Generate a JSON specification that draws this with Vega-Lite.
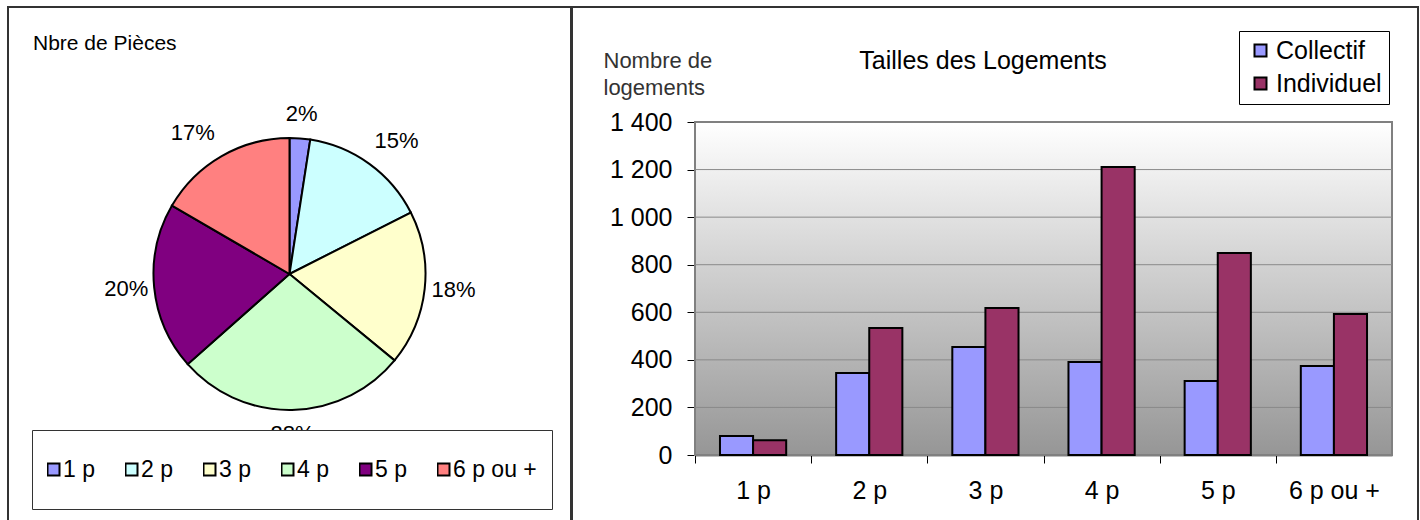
{
  "$schema": "https://vega.github.io/schema/vega-lite/v6.json",
  "padding": {"left": 7, "top": 6, "right": 0, "bottom": 0},
  "background": "#ffffff",
  "spacing": -2,
  "config": {
    "font": "Liberation Sans",
    "view": {"stroke": "#333333", "strokeWidth": 2}
  },
  "datasets": {
    "pieces": [
      {"ordre": 1, "pieces": "1 p", "total": 142, "pct": "2%"},
      {"ordre": 2, "pieces": "2 p", "total": 879, "pct": "15%"},
      {"ordre": 3, "pieces": "3 p", "total": 1072, "pct": "18%"},
      {"ordre": 4, "pieces": "4 p", "total": 1602, "pct": "28%"},
      {"ordre": 5, "pieces": "5 p", "total": 1160, "pct": "20%"},
      {"ordre": 6, "pieces": "6 p ou +", "total": 967, "pct": "17%"}
    ],
    "logements": [
      {"pieces": "1 p", "serie": "Collectif", "logements": 80},
      {"pieces": "1 p", "serie": "Individuel", "logements": 62},
      {"pieces": "2 p", "serie": "Collectif", "logements": 345},
      {"pieces": "2 p", "serie": "Individuel", "logements": 534},
      {"pieces": "3 p", "serie": "Collectif", "logements": 454},
      {"pieces": "3 p", "serie": "Individuel", "logements": 618},
      {"pieces": "4 p", "serie": "Collectif", "logements": 391},
      {"pieces": "4 p", "serie": "Individuel", "logements": 1211},
      {"pieces": "5 p", "serie": "Collectif", "logements": 311},
      {"pieces": "5 p", "serie": "Individuel", "logements": 849},
      {"pieces": "6 p ou +", "serie": "Collectif", "logements": 374},
      {"pieces": "6 p ou +", "serie": "Individuel", "logements": 593}
    ]
  },
  "resolve": {"scale": {"color": "independent"}, "legend": {"color": "independent"}},
  "hconcat": [
    {
      "width": 563,
      "height": 534,
      "view": {"stroke": "#333333", "strokeWidth": 2, "fill": "#ffffff"},
      "title": {"text": "Nbre de Pièces", "anchor": "start", "offset": -64, "dx": 25, "baseline": "alphabetic", "fontSize": 21, "fontWeight": "normal", "color": "#000000"},
      "data": {"name": "pieces"},
      "encoding": {
        "theta": {"field": "total", "type": "quantitative", "stack": true},
        "order": {"field": "ordre", "type": "quantitative"}
      },
      "layer": [
        {
          "mark": {"type": "arc", "outerRadius": 136, "stroke": "#000000", "strokeWidth": 2},
          "encoding": {
            "color": {
              "field": "pieces",
              "type": "nominal",
              "scale": {
                "domain": ["1 p", "2 p", "3 p", "4 p", "5 p", "6 p ou +"],
                "range": ["#9999FF", "#CCFFFF", "#FFFFCC", "#CCFFCC", "#800080", "#FF8080"]
              },
              "legend": {
                "orient": "none",
                "legendX": 24,
                "legendY": 423,
                "direction": "horizontal",
                "title": null,
                "padding": 15,
                "columnPadding": 30,
                "symbolType": "square",
                "symbolSize": 144,
                "symbolStrokeColor": "#000000",
                "symbolStrokeWidth": 2,
                "symbolOpacity": 1,
                "symbolOffset": -5,
                "labelFontSize": 23,
                "labelOffset": -2,
                "labelColor": "#000000",
                "strokeColor": "#333333",
                "fillColor": "#ffffff",
                "clipHeight": 49
              }
            }
          }
        },
        {
          "mark": {"type": "text", "radius": 160, "fontSize": 22, "color": "#000000"},
          "encoding": {"text": {"condition": {"test": "datum.ordre == 1 || datum.ordre == 4", "field": "pct", "type": "nominal"}, "value": ""}}
        },
        {
          "mark": {"type": "text", "radius": 160, "fontSize": 22, "color": "#000000", "dx": 13, "dy": -3},
          "encoding": {"text": {"condition": {"test": "datum.ordre == 2", "field": "pct", "type": "nominal"}, "value": ""}}
        },
        {
          "mark": {"type": "text", "radius": 160, "fontSize": 22, "color": "#000000", "dx": 5, "dy": -1},
          "encoding": {"text": {"condition": {"test": "datum.ordre == 3", "field": "pct", "type": "nominal"}, "value": ""}}
        },
        {
          "mark": {"type": "text", "radius": 160, "fontSize": 22, "color": "#000000", "dx": -4, "dy": -1},
          "encoding": {"text": {"condition": {"test": "datum.ordre == 5", "field": "pct", "type": "nominal"}, "value": ""}}
        },
        {
          "mark": {"type": "text", "radius": 160, "fontSize": 22, "color": "#000000", "dx": -17, "dy": -2},
          "encoding": {"text": {"condition": {"test": "datum.ordre == 6", "field": "pct", "type": "nominal"}, "value": ""}}
        }
      ]
    },
    {
      "width": 846,
      "height": 534,
      "view": {"stroke": "#333333", "strokeWidth": 2, "fill": "#ffffff"},
      "title": {"text": "Tailles des Logements", "anchor": "middle", "offset": -87, "dx": -12, "baseline": "alphabetic", "fontSize": 25, "fontWeight": "normal", "color": "#000000"},
      "resolve": {"scale": {"x": "independent"}, "axis": {"x": "independent"}},
      "layer": [
        {
          "data": {"values": [{}]},
          "encoding": {
            "x": {"datum": 0, "type": "quantitative", "scale": {"domain": [0, 1], "range": [123, 820]}, "axis": null},
            "x2": {"datum": 1}
          },
          "layer": [
            {
              "mark": {
                "type": "rect",
                "fill": {"gradient": "linear", "x1": 0, "y1": 0, "x2": 0, "y2": 1, "stops": [{"offset": 0, "color": "#ffffff"}, {"offset": 1, "color": "#969696"}]},
                "stroke": "#808080",
                "strokeWidth": 2
              },
              "encoding": {
                "y": {
                  "datum": 0,
                  "type": "quantitative",
                  "scale": {"domain": [0, 1400], "range": [448, 115], "nice": false},
                  "axis": {
                    "orient": "left",
                    "offset": -123,
                    "values": [0, 200, 400, 600, 800, 1000, 1200, 1400],
                    "labelExpr": "replace(format(datum.value, ','), ',', ' ')",
                    "grid": false,
                    "tickSize": 8,
                    "tickColor": "#000000",
                    "tickWidth": 1,
                    "domainColor": "#666666",
                    "domainWidth": 2,
                    "labelFontSize": 25,
                    "labelColor": "#000000",
                    "labelPadding": 15,
                    "title": ["Nombre de", "logements"],
                    "titleAngle": 0,
                    "titleAlign": "left",
                    "titleBaseline": "alphabetic",
                    "titleX": -92,
                    "titleY": 60,
                    "titleFontSize": 22,
                    "titleFontWeight": "normal",
                    "titleColor": "#333333",
                    "titleLineHeight": 27
                  }
                },
                "y2": {"datum": 1400}
              }
            },
            {"mark": {"type": "rule", "color": "#8a8a8a", "strokeWidth": 1}, "encoding": {"y": {"datum": 200, "type": "quantitative"}}},
            {"mark": {"type": "rule", "color": "#8a8a8a", "strokeWidth": 1}, "encoding": {"y": {"datum": 400, "type": "quantitative"}}},
            {"mark": {"type": "rule", "color": "#8a8a8a", "strokeWidth": 1}, "encoding": {"y": {"datum": 600, "type": "quantitative"}}},
            {"mark": {"type": "rule", "color": "#8a8a8a", "strokeWidth": 1}, "encoding": {"y": {"datum": 800, "type": "quantitative"}}},
            {"mark": {"type": "rule", "color": "#8a8a8a", "strokeWidth": 1}, "encoding": {"y": {"datum": 1000, "type": "quantitative"}}},
            {"mark": {"type": "rule", "color": "#8a8a8a", "strokeWidth": 1}, "encoding": {"y": {"datum": 1200, "type": "quantitative"}}}
          ]
        },
        {
          "data": {"name": "logements"},
          "mark": {"type": "bar", "stroke": "#000000", "strokeWidth": 2, "strokeJoin": "miter"},
          "encoding": {
            "x": {
              "field": "pieces",
              "type": "nominal",
              "sort": null,
              "scale": {"range": [123, 820], "paddingInner": 0.43, "paddingOuter": 0.215},
              "axis": {
                "orient": "bottom",
                "offset": -86,
                "title": null,
                "grid": false,
                "labelAngle": 0,
                "labelFontSize": 25,
                "labelColor": "#000000",
                "labelPadding": 15,
                "tickSize": 8,
                "tickColor": "#000000",
                "tickWidth": 1,
                "tickOffset": -58,
                "labelOffset": 58,
                "domainColor": "#000000",
                "domainWidth": 1.5
              }
            },
            "xOffset": {"field": "serie", "type": "nominal", "sort": ["Collectif", "Individuel"], "scale": {"paddingInner": 0, "paddingOuter": 0}},
            "y": {"field": "logements", "type": "quantitative"},
            "color": {
              "field": "serie",
              "type": "nominal",
              "scale": {"domain": ["Collectif", "Individuel"], "range": ["#9999FF", "#993366"]},
              "legend": {
                "orient": "none",
                "legendX": 667,
                "legendY": 24,
                "title": null,
                "padding": 7,
                "rowPadding": 7,
                "symbolType": "square",
                "symbolSize": 144,
                "symbolStrokeColor": "#000000",
                "symbolStrokeWidth": 2,
                "symbolOpacity": 1,
                "symbolOffset": 2,
                "labelFontSize": 25,
                "labelOffset": 3,
                "labelColor": "#000000",
                "strokeColor": "#000000",
                "fillColor": "#ffffff"
              }
            }
          }
        }
      ]
    }
  ]
}
